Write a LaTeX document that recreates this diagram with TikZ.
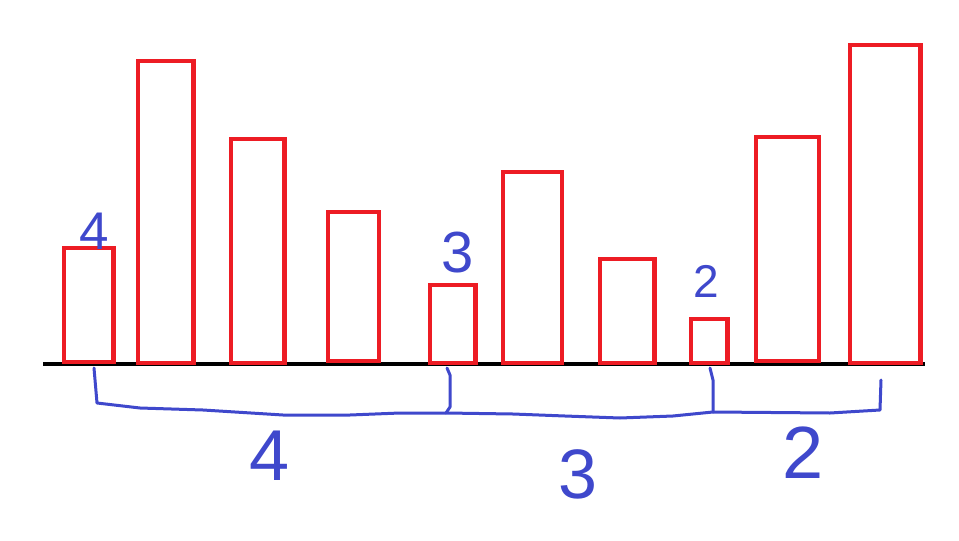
\documentclass[tikz,border=0pt]{standalone}
\usepackage{fontspec}
\setmainfont{Liberation Sans}
\definecolor{barred}{HTML}{ED1C24}
\definecolor{penblue}{HTML}{3F48CC}
\tikzset{
  bar/.style={draw=barred, line width=4.5pt},
  axis/.style={draw=black, line width=4pt},
  pen/.style={draw=penblue, line width=3pt, line cap=round, line join=round},
  digit/.style={text=penblue, inner sep=0pt, anchor=center},
}
\begin{document}
\begin{tikzpicture}[x=1pt,y=-1pt]
\useasboundingbox[fill=white] (0,0) rectangle (959,541);
% baseline
\draw[axis] (43,364) coordinate (axL) -- (925,364) coordinate (axR);
% bars
\draw[bar] (64,248) rectangle (113.5,362);
\draw[bar] (138,61) rectangle (193.5,363);
\draw[bar] (231,139) rectangle (284.5,363);
\draw[bar] (328,212) rectangle (379,361);
\draw[bar] (430,285) rectangle (475.5,363);
\draw[bar] (503,172) rectangle (562,363);
\draw[bar] (600,259) rectangle (654.5,363);
\draw[bar] (691,319) rectangle (727.5,363);
\draw[bar] (756,137) rectangle (819,361);
\draw[bar] (850,45) rectangle (920.5,363);
% brackets
\draw[pen] (94,368) -- (97,403) -- (140,408) -- (203,410) -- (283,415) -- (350,415)
  -- (400,413) -- (446,413) -- (513,414) -- (565,416) -- (620,418) -- (673,416)
  -- (713,412) -- (830,413) -- (880,410) -- (881,380);
\draw[pen] (447,368) -- (450,375) -- (450,407) -- (446,413);
\draw[pen] (710,368) -- (713,380) -- (713,412);
% labels
\node[digit, font=\fontsize{53}{53}\selectfont] (t4) at (94,231) {4};
\node[digit, font=\fontsize{58}{58}\selectfont] (t3) at (458,253) {3};
\node[digit, font=\fontsize{46}{46}\selectfont] (t2) at (706,281) {2};
\node[digit, font=\fontsize{72}{72}\selectfont] (b4) at (270,456) {4};
\node[digit, font=\fontsize{70}{70}\selectfont] (b3) at (578,474) {3};
\node[digit, font=\fontsize{74}{74}\selectfont] (b2) at (803,453) {2};
\end{tikzpicture}
\end{document}
